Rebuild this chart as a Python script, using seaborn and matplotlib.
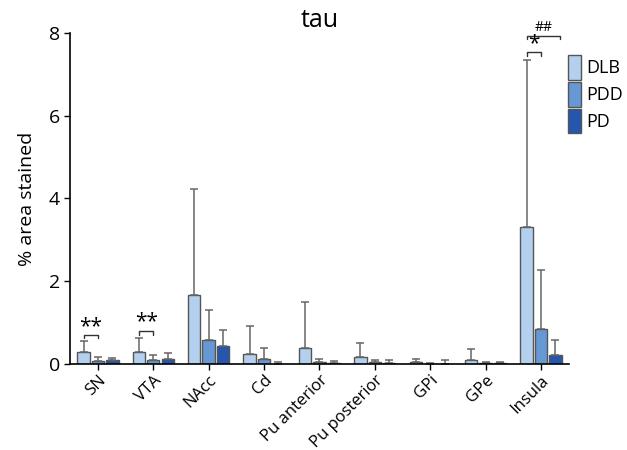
import numpy as np
import pandas as pd
import matplotlib
matplotlib.use("Agg")
import matplotlib.pyplot as plt
import seaborn as sns

regions = ["SN", "VTA", "NAcc", "Cd", "Pu anterior", "Pu posterior", "GPi", "GPe", "Insula"]
groups = ["DLB", "PDD", "PD"]

dlb_mean = [0.28, 0.28, 1.67, 0.25, 0.39, 0.18, 0.06, 0.10, 3.30]
dlb_err = [0.27, 0.36, 2.57, 0.66, 1.12, 0.33, 0.07, 0.26, 4.05]
pdd_mean = [0.08, 0.10, 0.59, 0.11, 0.05, 0.05, 0.01, 0.02, 0.85]
pdd_err = [0.09, 0.12, 0.72, 0.28, 0.07, 0.05, 0.01, 0.03, 1.41]
pd_mean = [0.10, 0.12, 0.44, 0.01, 0.02, 0.03, 0.01, 0.02, 0.21]
pd_err = [0.05, 0.15, 0.39, 0.04, 0.05, 0.07, 0.08, 0.03, 0.36]

colors = ["#b3d1ef", "#6698d6", "#2457ad"]

df = pd.DataFrame({
    "region": regions * 3,
    "group": np.repeat(groups, len(regions)),
    "value": dlb_mean + pdd_mean + pd_mean,
})
errs = [dlb_err, pdd_err, pd_err]

sns.set_style("ticks")
plt.rcParams["font.family"] = ["Open Sans", "DejaVu Sans"]
plt.rcParams["text.color"] = "black"
plt.rcParams["axes.labelcolor"] = "black"

fig = plt.figure(figsize=(6.27, 4.5), dpi=100)
ax = fig.add_axes([0.112, 0.191, 0.795, 0.736])

sns.barplot(data=df, x="region", y="value", hue="group", palette=colors, saturation=1,
            order=regions, hue_order=groups, errorbar=None, width=0.78, gap=0.14,
            edgecolor="#555555", linewidth=1, ax=ax, legend=True)

# one-sided error bars
for cont, err in zip(ax.containers, errs):
    xs = [p.get_x() + p.get_width() / 2 for p in cont]
    ys = [p.get_height() for p in cont]
    ax.errorbar(xs, ys, yerr=[np.zeros(len(err)), err], fmt="none",
                ecolor="#666666", elinewidth=1.1, capsize=3, capthick=1.1, zorder=1)

ax.set_ylim(0, 8)
ax.set_xlim(-0.5, 8.5)
ax.set_yticks([0, 2, 4, 6, 8])
ax.set_ylabel("% area stained", fontsize=14, labelpad=9)
ax.set_xlabel("")
ax.set_title("tau", fontsize=18, pad=4, color="black")
ax.tick_params(axis="y", labelsize=14, length=4, width=1, colors="black")
ax.tick_params(axis="x", labelsize=12, length=4, width=1, pad=2, colors="black")
plt.setp(ax.get_xticklabels(), rotation=45, ha="right", rotation_mode="anchor")
for s in ["left", "bottom"]:
    ax.spines[s].set_color("black")
    ax.spines[s].set_linewidth(1.2)
sns.despine(ax=ax)


def bracket(x1, x2, y, h, text, ty, fs):
    ax.plot([x1, x1, x2, x2], [y - h, y, y, y - h], color="#333333", lw=1, clip_on=False)
    ax.text((x1 + x2) / 2, ty, text, ha="center", va="center", fontsize=fs, clip_on=False)


c0 = ax.containers[0]
c1 = ax.containers[1]
c2 = ax.containers[2]
cx = lambda c, i: c[i].get_x() + c[i].get_width() / 2

bracket(cx(c0, 0), cx(c1, 0), 0.71, 0.09, "**", 0.90, 15)
bracket(cx(c0, 1), cx(c1, 1), 0.79, 0.09, "**", 1.03, 15)
bracket(cx(c0, 8), cx(c1, 8), 7.53, 0.08, "*", 7.74, 15)
bracket(cx(c0, 8), cx(c2, 8) + 0.08, 7.93, 0.08, "##", 8.14, 10)

leg = ax.legend(title=None, loc="upper left", bbox_to_anchor=(0.985, 0.955), frameon=False,
                fontsize=13, handlelength=0.7, handleheight=1.75, handletextpad=0.3,
                labelspacing=0.1, borderaxespad=0)
for t in leg.get_texts():
    t.set_color("black")

fig.savefig("out.png", dpi=100)
